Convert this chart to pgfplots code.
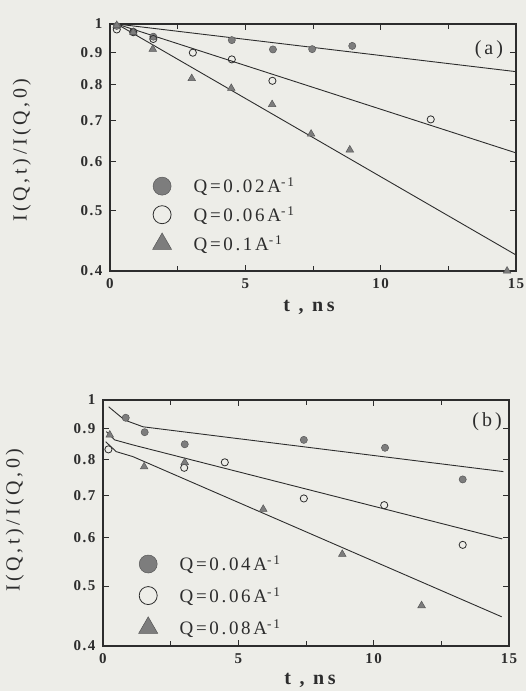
\documentclass[border=0pt]{standalone}
\usepackage{fontspec}
\setmainfont{Liberation Serif}
\usepackage{pgfplots}
\pgfplotsset{compat=1.18}
\definecolor{paper}{RGB}{237,237,232}
\definecolor{ink}{RGB}{45,45,45}
\definecolor{dotgray}{RGB}{125,125,125}

\pgfplotsset{
  mypanel/.style={
    scale only axis, width=406pt,
    xmin=0, xmax=15, ymin=0.4, ymax=1,
    xtick={0,5,10,15}, xticklabels={0,5,10,15},
    minor xtick={2.5,7.5,12.5},
    ytick={0.4,0.5,0.6,0.7,0.8,0.9,1},
    yticklabels={0.4,0.5,0.6,0.7,0.8,0.9,1},
    tick align=inside, major tick length=6pt, minor tick length=5pt,
    axis line style={ink, line width=1.1pt},
    tick style={ink, line width=1pt},
    tick label style={font=\fontsize{15}{15}\selectfont\bfseries\addfontfeatures{LetterSpace=10}, text=ink},
    xticklabel style={yshift=-4pt},
    yticklabel style={xshift=-4pt},
    xlabel style={font=\fontsize{20}{20}\selectfont\bfseries\addfontfeatures{LetterSpace=18}, text=ink, anchor=center},
    ylabel style={font=\fontsize{20}{20}\selectfont\addfontfeatures{LetterSpace=18}, text=ink, anchor=center},
    clip=false,
    legend style={draw=none, fill=none, font=\fontsize{19}{19}\selectfont\addfontfeatures{LetterSpace=14},
      text=ink, column sep=20pt, anchor=north west},
    legend cell align=left,
  },
  myfit/.style={ink, line width=0.9pt, forget plot},
  mfill/.style={only marks, mark=*, mark size=3.6pt,
    mark options={fill=dotgray, draw=ink!80, line width=0.5pt},
    legend image post style={mark size=9pt}},
  mopen/.style={only marks, mark=o, mark size=3.6pt,
    mark options={draw=ink, line width=0.8pt},
    legend image post style={mark size=9pt}},
  mtri/.style={only marks, mark=triangle*, mark size=4.4pt,
    mark options={fill=dotgray, draw=ink!80, line width=0.5pt},
    legend image post style={mark size=11pt}},
}

\begin{document}
\begin{tikzpicture}
\fill[paper] (0,0) rectangle (526pt,691pt);

% panel (a)
\begin{semilogyaxis}[mypanel, height=247pt, at={(110pt,420pt)}, anchor=south west,
    xlabel={t , ns}, ylabel={I(Q,t)/I(Q,0)},
    xlabel style={at={(axis description cs:0.49,-0.146)}},
    ylabel style={at={(axis description cs:-0.217,0.49)}},
    legend style={at={(axis description cs:0.097,0.394)}, row sep=8pt}]
\addplot[myfit] coordinates {(0.25,1) (15,0.838)};
\addplot[myfit] coordinates {(0.25,1) (15,0.620)};
\addplot[myfit] coordinates {(0.25,1) (15,0.4245)};
\addplot[mfill] coordinates {
  (0.25,0.993) (0.86,0.972) (1.6,0.954) (4.5,0.942) (6.02,0.910) (7.47,0.911) (8.95,0.922)};
\addlegendentry{Q=0.02A\textsuperscript{-1}}
\addplot[mopen] coordinates {
  (0.25,0.980) (0.86,0.970) (1.6,0.946) (3.06,0.899) (4.5,0.877) (6.0,0.810) (11.85,0.702)};
\addlegendentry{Q=0.06A\textsuperscript{-1}}
\addplot[mtri] coordinates {
  (0.25,0.995) (0.86,0.970) (1.58,0.911) (3.02,0.817) (4.48,0.788) (5.99,0.742)
  (7.43,0.665) (8.86,0.627) (14.67,0.400)};
\addlegendentry{Q=0.1A\textsuperscript{-1}}
\node[font=\fontsize{20}{20}\selectfont\addfontfeatures{LetterSpace=15}, text=ink] at (axis cs:14.0,0.908) {(a)};
\end{semilogyaxis}

% panel (b)
\begin{semilogyaxis}[mypanel, height=246pt, at={(103pt,45pt)}, anchor=south west,
    xlabel={t , ns}, ylabel={I(Q,t)/I(Q,0)},
    xlabel style={at={(axis description cs:0.51,-0.138)}},
    ylabel style={at={(axis description cs:-0.217,0.512)}},
    legend style={at={(axis description cs:0.080,0.384)}, row sep=11pt}]
\addplot[myfit] coordinates {(0.21,0.975) (0.8,0.928) (1.48,0.905) (14.79,0.766)};
\addplot[myfit] coordinates {(0.12,0.889) (0.43,0.862) (1.1,0.846) (14.75,0.596)};
\addplot[myfit] coordinates {(0.1,0.856) (0.49,0.825) (1.1,0.810) (14.73,0.446)};
\addplot[mfill] coordinates {
  (0.84,0.936) (1.54,0.887) (3.02,0.848) (7.42,0.862) (10.42,0.837) (13.29,0.744)};
\addlegendentry{Q=0.04A\textsuperscript{-1}}
\addplot[mopen] coordinates {
  (0.2,0.832) (3.0,0.777) (4.5,0.793) (7.42,0.693) (10.39,0.676) (13.29,0.583)};
\addlegendentry{Q=0.06A\textsuperscript{-1}}
\addplot[mtri] coordinates {
  (0.25,0.878) (1.52,0.780) (3.02,0.793) (5.92,0.666) (8.84,0.563) (11.77,0.465)};
\addlegendentry{Q=0.08A\textsuperscript{-1}}
\node[font=\fontsize{20}{20}\selectfont\addfontfeatures{LetterSpace=15}, text=ink] at (axis cs:14.19,0.921) {(b)};
\end{semilogyaxis}
\end{tikzpicture}
\end{document}
